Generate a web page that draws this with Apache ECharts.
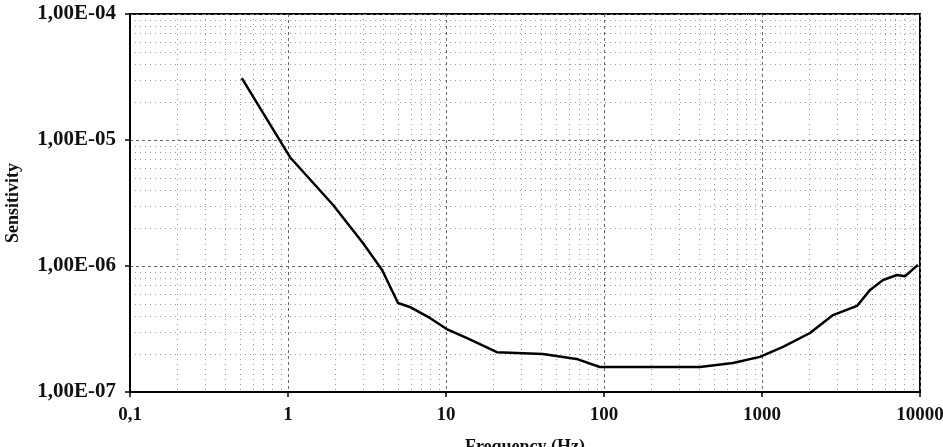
<!DOCTYPE html>
<html>
<head>
<meta charset="utf-8">
<script src="https://cdn.jsdelivr.net/npm/echarts@6/dist/echarts.min.js"></script>
<style>
  html, body { margin: 0; padding: 0; background: #fff; }
  #chart { width: 943px; height: 447px; }
</style>
</head>
<body>
<div id="chart"></div>
<script>
// sensitivity curve
var freq = [0.51, 1.03, 1.93, 2.98, 3.94, 4.97, 5.9, 7.9, 10.1, 13.6, 21, 41, 67, 94, 195, 405, 655, 970, 1358, 2013, 2814, 3990, 4830, 5840, 7150, 8040, 9700];
var sens = [3.1e-5, 7.3e-6, 3.05e-6, 1.52e-6, 9.3e-7, 5.08e-7, 4.73e-7, 3.87e-7, 3.16e-7, 2.68e-7, 2.07e-7, 2.0e-7, 1.83e-7, 1.58e-7, 1.58e-7, 1.58e-7, 1.70e-7, 1.90e-7, 2.28e-7, 2.94e-7, 4.08e-7, 4.82e-7, 6.46e-7, 7.74e-7, 8.49e-7, 8.3e-7, 1.02e-6];

// tick labels (decimal comma, as in the original)
var xTickLabels = ['0,1', '1', '10', '100', '1000', '10000'];   // 1e-1 .. 1e4
var yTickLabels = ['1,00E-07', '1,00E-06', '1,00E-05', '1,00E-04']; // 1e-7 .. 1e-4

var chart = echarts.init(document.getElementById('chart'));

var font = 'Liberation Serif';

var option = {
  animation: false,
  backgroundColor: '#fff',
  grid: {
    left: 130,
    right: 23,
    top: 14,
    bottom: 55,
    outerBoundsMode: 'none',
    containLabel: false,
    show: true,
    borderColor: '#000',
    borderWidth: 2
  },
  xAxis: {
    type: 'log',
    logBase: 10,
    min: 0.1,
    max: 10000,
    name: 'Frequency (Hz)',
    nameLocation: 'middle',
    nameGap: 46,
    nameTextStyle: { fontFamily: font, fontSize: 18, fontWeight: 'bold', color: '#111' },
    axisLine: { lineStyle: { color: '#000', width: 2 } },
    axisTick: { show: true, length: 5, lineStyle: { color: '#000', width: 1.5 } },
    axisLabel: {
      margin: 14,
      fontFamily: font,
      fontSize: 19,
      fontWeight: 'bold',
      color: '#111',
      formatter: function(v) {
        return xTickLabels[Math.round(Math.log10(v)) + 1];
      }
    },
    splitLine: { show: true, lineStyle: { color: '#666', width: 1, type: [3, 3] } },
    minorTick: { show: false, splitNumber: 9 },
    minorSplitLine: { show: true, lineStyle: { color: '#999', width: 1, type: [1, 4] } }
  },
  yAxis: {
    type: 'log',
    logBase: 10,
    min: 1e-7,
    max: 1e-4,
    name: 'Sensitivity',
    nameLocation: 'middle',
    nameGap: 108,
    nameRotate: 90,
    nameTextStyle: { fontFamily: font, fontSize: 18, fontWeight: 'bold', color: '#111' },
    axisLine: { show: true, lineStyle: { color: '#000', width: 2 } },
    axisTick: { show: true, length: 5, lineStyle: { color: '#000', width: 1.5 } },
    axisLabel: {
      margin: 14,
      fontFamily: font,
      fontSize: 21,
      fontWeight: 'bold',
      color: '#111',
      formatter: function(v) {
        return yTickLabels[Math.round(Math.log10(v)) + 7];
      }
    },
    splitLine: { show: true, lineStyle: { color: '#666', width: 1, type: [3, 3] } },
    minorTick: { show: false, splitNumber: 9 },
    minorSplitLine: { show: true, lineStyle: { color: '#999', width: 1, type: [1, 4] } }
  },
  series: [{
    type: 'line',
    data: freq.map(function(f, i) { return [f, sens[i]]; }),
    showSymbol: false,
    smooth: false,
    lineStyle: { color: '#000', width: 2.5 }
  }]
};

chart.setOption(option);
</script>
</body>
</html>
